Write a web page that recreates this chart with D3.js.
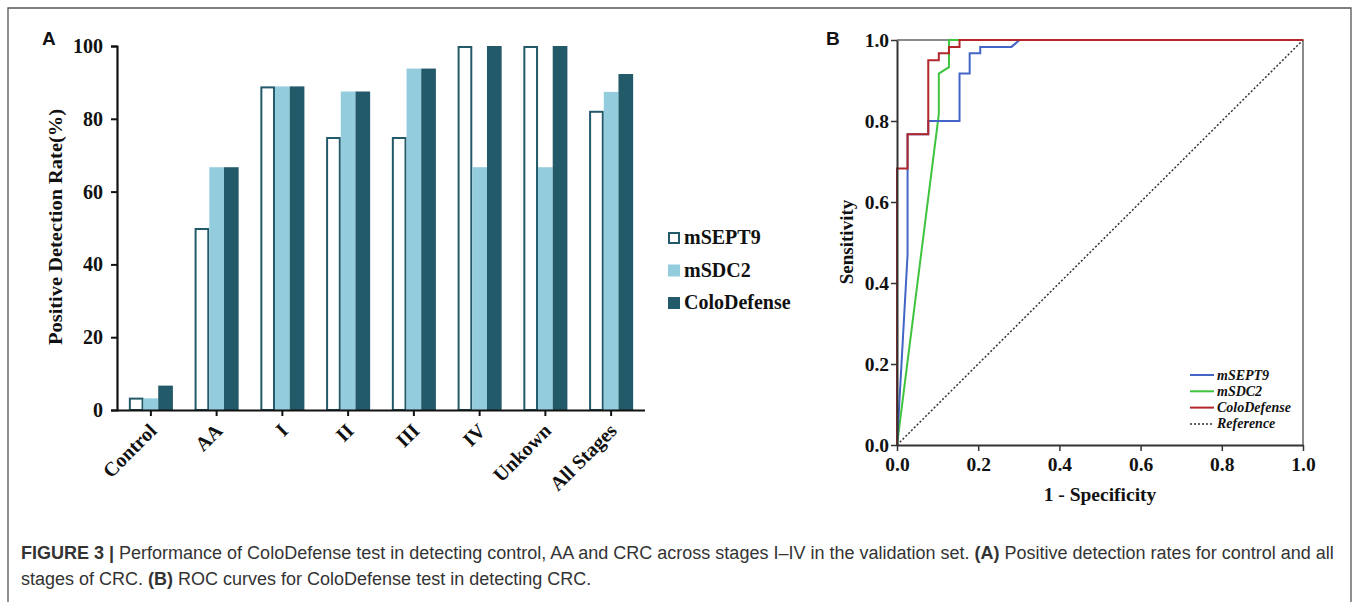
<!DOCTYPE html>
<html>
<head>
<meta charset="utf-8">
<script src="https://cdn.jsdelivr.net/npm/d3@7"></script>
<style>
  body { margin: 0; background: #fff; }
  svg text { fill: #111; }
  .serif { font-family: "Liberation Serif", "Times New Roman", serif; font-weight: bold; }
</style>
</head>
<body>
<svg id="chart" width="1358" height="602"></svg>
<script>
// panel A: detection rates (%)
const categories = ["Control", "AA", "I", "II", "III", "IV", "Unkown", "All Stages"];
const seriesNames = ["mSEPT9", "mSDC2", "ColoDefense"];
const mSEPT9 = [3.4, 50, 88.9, 75, 75, 100, 100, 82.2];
const mSDC2 = [3.2, 66.7, 88.9, 87.5, 93.8, 66.7, 66.7, 87.4];
const coloDefense = [6.7, 66.7, 88.9, 87.5, 93.8, 100, 100, 92.3];
const rateTicks = [0, 20, 40, 60, 80, 100];

// panel B: ROC curves (1 - specificity, sensitivity)
const rocSept9Fpr = [0, 0.026, 0.026, 0.077, 0.077, 0.154, 0.154, 0.179, 0.179, 0.205, 0.205, 0.282, 0.302, 1];
const rocSept9Tpr = [0, 0.47, 0.767, 0.767, 0.8, 0.8, 0.917, 0.917, 0.967, 0.967, 0.983, 0.983, 1, 1];
const rocSdc2Fpr = [0, 0.103, 0.103, 0.128, 0.128, 1];
const rocSdc2Tpr = [0, 0.817, 0.917, 0.933, 1, 1];
const rocColoFpr = [0, 0, 0.026, 0.026, 0.077, 0.077, 0.103, 0.103, 0.128, 0.128, 0.154, 0.154, 1];
const rocColoTpr = [0, 0.683, 0.683, 0.767, 0.767, 0.95, 0.95, 0.967, 0.967, 0.983, 0.983, 1, 1];
const rocTicks = [0, 0.2, 0.4, 0.6, 0.8, 1.0];

const svg = d3.select("#chart");

// outer frame
svg.append("path")
   .attr("d", "M8,602 V8 H1351 V602")
   .attr("fill", "none")
   .attr("stroke", "#555")
   .attr("stroke-width", 1.3);

// ---------- panel A ----------
const colors = { mSEPT9: "#fff", mSDC2: "#93cddd", ColoDefense: "#235a69" };
const values = { mSEPT9: mSEPT9, mSDC2: mSDC2, ColoDefense: coloDefense };

const yA = d3.scaleLinear().domain([0, 100]).range([410, 46]);
const xA = d3.scaleBand().domain(categories).range([118, 644])
             .paddingInner(0.33).paddingOuter(0.165);
const xSub = d3.scaleBand().domain(seriesNames).range([0, xA.bandwidth()]);

const gA = svg.append("g");

seriesNames.forEach(s => {
  const outline = s == "mSEPT9";
  gA.selectAll(".bar-" + s)
    .data(categories)
    .enter()
    .append("rect")
    .attr("x", d => xA(d) + xSub(s) + (outline ? 1 : 0))
    .attr("y", (d, i) => yA(values[s][i]) + (outline ? 1 : 0))
    .attr("width", xSub.bandwidth() - (outline ? 2 : 0))
    .attr("height", (d, i) => yA(0) - yA(values[s][i]) - (outline ? 1 : 0))
    .attr("fill", colors[s])
    .attr("stroke", outline ? "#235a69" : "none")
    .attr("stroke-width", 2);
});

const yAxisA = gA.append("g")
  .attr("transform", "translate(117,0)")
  .call(d3.axisLeft(yA).tickValues(rateTicks).tickSize(6).tickPadding(8));
const xAxisA = gA.append("g")
  .attr("transform", "translate(0,410)")
  .call(d3.axisBottom(xA).tickSize(6).tickSizeOuter(0));

[yAxisA, xAxisA].forEach(ax => {
  ax.select(".domain").attr("stroke", "#111").attr("stroke-width", 2.2);
  ax.selectAll(".tick line").attr("stroke", "#111").attr("stroke-width", 2);
});
yAxisA.selectAll("text").attr("class", "serif").style("font-size", "20px");
xAxisA.selectAll("text")
  .attr("class", "serif")
  .style("font-size", "20px")
  .attr("text-anchor", "end")
  .attr("y", 0).attr("dy", 0)
  .attr("transform", "translate(7,22) rotate(-45)");
xAxisA.select(".domain").attr("d", "M117,0.5H645");

gA.append("text")
  .attr("class", "serif")
  .attr("transform", "translate(62,227) rotate(-90)")
  .attr("text-anchor", "middle")
  .attr("textLength", 236)
  .attr("lengthAdjust", "spacingAndGlyphs")
  .style("font-size", "19px")
  .text("Positive Detection Rate(%)");

gA.append("text")
  .attr("x", 42).attr("y", 45)
  .style("font-family", "Liberation Sans, Arial, sans-serif")
  .style("font-weight", "bold").style("font-size", "19px")
  .text("A");

const legA = gA.append("g").attr("transform", "translate(668,0)");
seriesNames.forEach((s, i) => {
  const y = 232 + i * 32.5;
  const outline = s == "mSEPT9";
  legA.append("rect")
    .attr("x", outline ? 1 : 0).attr("y", y + (outline ? 1 : 0))
    .attr("width", outline ? 10 : 12).attr("height", outline ? 10 : 12)
    .attr("fill", colors[s])
    .attr("stroke", outline ? "#235a69" : "none")
    .attr("stroke-width", 2);
  legA.append("text")
    .attr("class", "serif")
    .attr("x", 16).attr("y", y + 12)
    .style("font-size", "20px")
    .text(s);
});

// ---------- panel B ----------
const xB = d3.scaleLinear().domain([0, 1]).range([897, 1303]);
const yB = d3.scaleLinear().domain([0, 1]).range([445, 40]);
const gB = svg.append("g");

// frame top / right
gB.append("path")
  .attr("d", `M${xB(0)},${yB(1)}H${xB(1)}V${yB(0)}`)
  .attr("fill", "none").attr("stroke", "#666").attr("stroke-width", 1.5);

const line = d3.line().x(d => xB(d[0])).y(d => yB(d[1]));

gB.append("path")
  .datum([[0, 0], [1, 1]])
  .attr("d", line)
  .attr("fill", "none").attr("stroke", "#333")
  .attr("stroke-width", 1.5).attr("stroke-dasharray", "2,2");

const rocSeries = [
  { name: "mSDC2", color: "#3ec43e", fpr: rocSdc2Fpr, tpr: rocSdc2Tpr },
  { name: "mSEPT9", color: "#4265c6", fpr: rocSept9Fpr, tpr: rocSept9Tpr },
  { name: "ColoDefense", color: "#b3262b", fpr: rocColoFpr, tpr: rocColoTpr }
];
rocSeries.forEach(r => {
  gB.append("path")
    .datum(r.fpr.map((f, i) => [f, r.tpr[i]]))
    .attr("d", line)
    .attr("fill", "none")
    .attr("stroke", r.color)
    .attr("stroke-width", 2);
});

const xAxisB = gB.append("g")
  .attr("transform", `translate(0,${yB(0)})`)
  .call(d3.axisBottom(xB).tickValues(rocTicks).tickFormat(d3.format(".1f")).tickSize(6).tickSizeOuter(0).tickPadding(6));
const yAxisB = gB.append("g")
  .attr("transform", `translate(${xB(0)},0)`)
  .call(d3.axisLeft(yB).tickValues(rocTicks).tickFormat(d3.format(".1f")).tickSize(6).tickSizeOuter(0).tickPadding(2));
[xAxisB, yAxisB].forEach(ax => {
  ax.select(".domain").attr("stroke", "#333").attr("stroke-width", 2);
  ax.selectAll(".tick line").attr("stroke", "#333").attr("stroke-width", 1.5);
  ax.selectAll("text").attr("class", "serif").style("font-size", "19.5px");
});

gB.append("text")
  .attr("class", "serif")
  .attr("transform", "translate(853,242) rotate(-90)")
  .attr("text-anchor", "middle")
  .style("font-size", "19px")
  .text("Sensitivity");
gB.append("text")
  .attr("class", "serif")
  .attr("x", 1100).attr("y", 501)
  .attr("text-anchor", "middle")
  .style("font-size", "19.5px")
  .text("1 - Specificity");

gB.append("text")
  .attr("x", 826).attr("y", 45)
  .style("font-family", "Liberation Sans, Arial, sans-serif")
  .style("font-weight", "bold").style("font-size", "19px")
  .text("B");

const legB = gB.append("g");
const legBItems = [
  { name: "mSEPT9", color: "#4265c6", dash: null },
  { name: "mSDC2", color: "#3ec43e", dash: null },
  { name: "ColoDefense", color: "#b3262b", dash: null },
  { name: "Reference", color: "#333", dash: "2,2" }
];
legBItems.forEach((it, i) => {
  const y = 375 + i * 16.3;
  legB.append("line")
    .attr("x1", 1190).attr("x2", 1214).attr("y1", y).attr("y2", y)
    .attr("stroke", it.color)
    .attr("stroke-width", it.dash ? 1.5 : 2)
    .attr("stroke-dasharray", it.dash);
  legB.append("text")
    .attr("class", "serif")
    .attr("x", 1217).attr("y", y + 4.5)
    .style("font-size", "14px")
    .style("font-style", "italic")
    .text(it.name);
});

// ---------- caption ----------
const cap = svg.append("g")
  .style("font-family", "Liberation Sans Narrow, Arial Narrow, Liberation Sans, sans-serif")
  .style("font-size", "18px");
const l1 = cap.append("text").attr("x", 21).attr("y", 559);
l1.append("tspan").style("font-weight", "bold").text("FIGURE 3 | ");
l1.append("tspan").text("Performance of ColoDefense test in detecting control, AA and CRC across stages I–IV in the validation set. ");
l1.append("tspan").style("font-weight", "bold").text("(A)");
l1.append("tspan").text(" Positive detection rates for control and all");
const l2 = cap.append("text").attr("x", 21).attr("y", 585);
l2.append("tspan").text("stages of CRC. ");
l2.append("tspan").style("font-weight", "bold").text("(B)");
l2.append("tspan").text(" ROC curves for ColoDefense test in detecting CRC.");
cap.selectAll("text").style("fill", "#333");
</script>
</body>
</html>
